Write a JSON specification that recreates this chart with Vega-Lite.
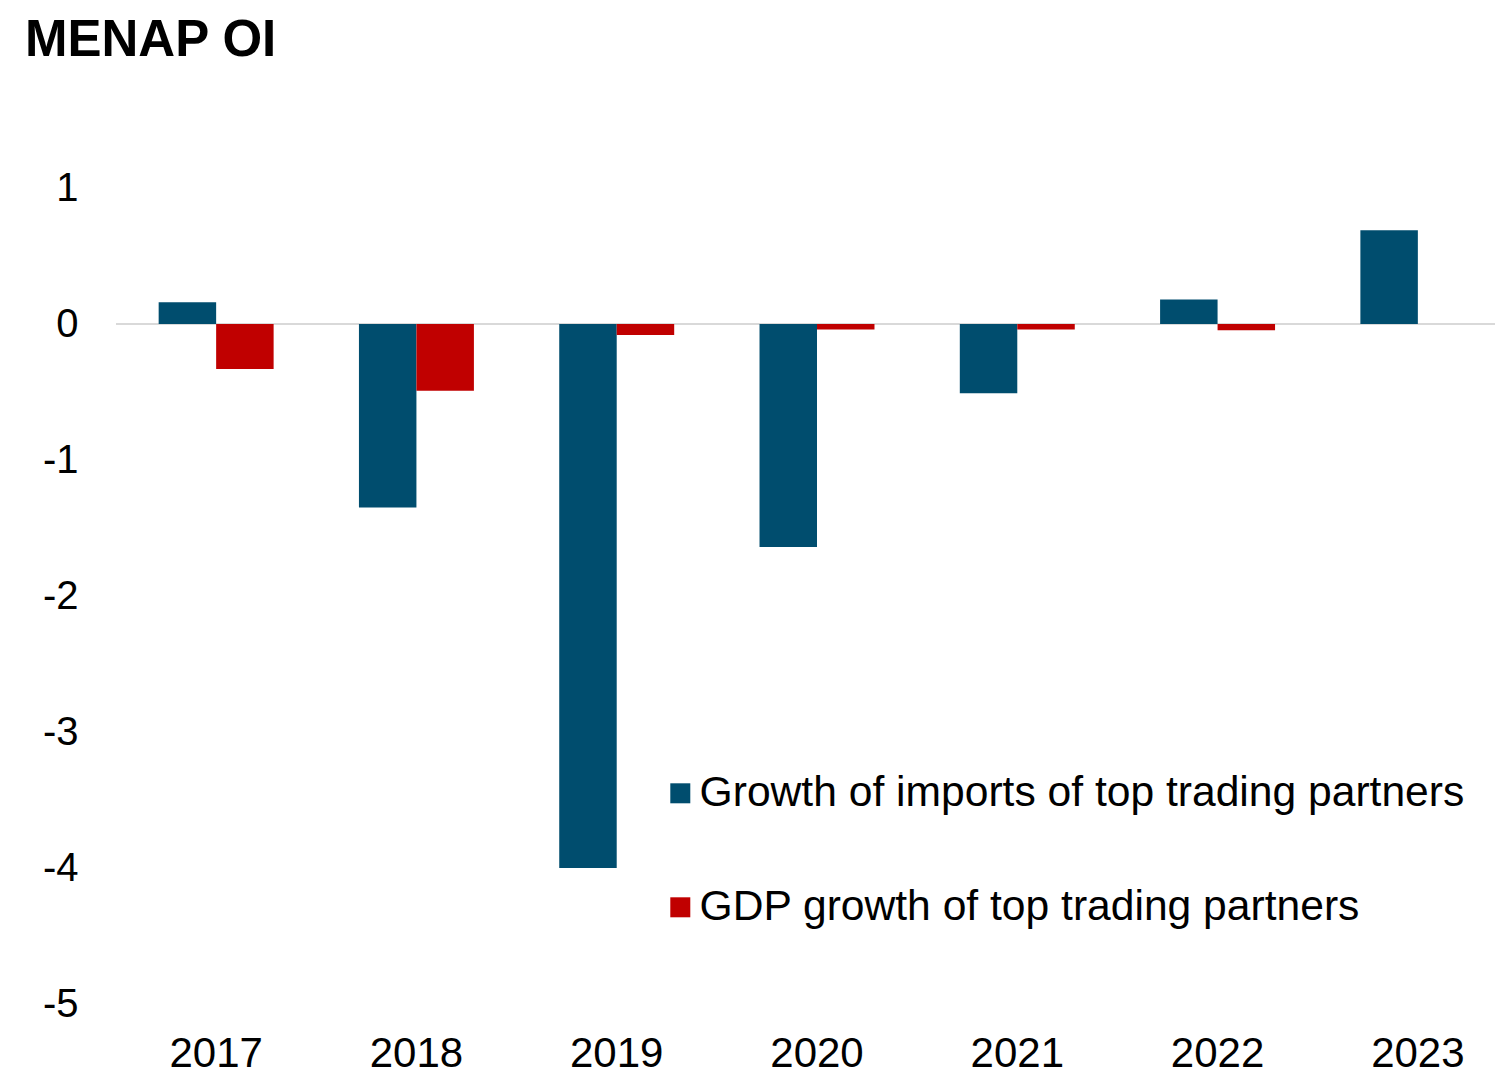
{
  "$schema": "https://vega.github.io/schema/vega-lite/v6.json",
  "autosize": "none",
  "padding": {"left": 116, "top": 188, "right": 0, "bottom": 72},
  "width": 1402,
  "height": 816,
  "background": "#ffffff",
  "title": {
    "text": "MENAP OI",
    "anchor": "start",
    "frame": "group",
    "font": "Liberation Sans",
    "fontSize": 51,
    "fontWeight": "bold",
    "color": "#000000",
    "dx": -91,
    "offset": 101
  },
  "data": {
    "values": [
      {"year": "2017", "series": "Growth of imports of top trading partners", "value": 0.16},
      {"year": "2017", "series": "GDP growth of top trading partners", "value": -0.33},
      {"year": "2018", "series": "Growth of imports of top trading partners", "value": -1.35},
      {"year": "2018", "series": "GDP growth of top trading partners", "value": -0.49},
      {"year": "2019", "series": "Growth of imports of top trading partners", "value": -4.0},
      {"year": "2019", "series": "GDP growth of top trading partners", "value": -0.08},
      {"year": "2020", "series": "Growth of imports of top trading partners", "value": -1.64},
      {"year": "2020", "series": "GDP growth of top trading partners", "value": -0.04},
      {"year": "2021", "series": "Growth of imports of top trading partners", "value": -0.51},
      {"year": "2021", "series": "GDP growth of top trading partners", "value": -0.04},
      {"year": "2022", "series": "Growth of imports of top trading partners", "value": 0.18},
      {"year": "2022", "series": "GDP growth of top trading partners", "value": -0.046},
      {"year": "2023", "series": "Growth of imports of top trading partners", "value": 0.69},
      {"year": "2023", "series": "GDP growth of top trading partners", "value": 0}
    ]
  },
  "config": {
    "view": {"stroke": null},
    "font": "Liberation Sans"
  },
  "layer": [
    {
      "mark": {"type": "rule", "color": "#d9d9d9", "strokeWidth": 2},
      "encoding": {"y": {"datum": 0, "type": "quantitative", "scale": {"domain": [-5, 1]}}}
    },
    {
      "mark": {"type": "bar"},
      "encoding": {
        "x": {
          "field": "year",
          "type": "nominal",
          "scale": {"paddingInner": 0.426, "paddingOuter": 0.213},
          "axis": {
            "title": null,
            "domain": false,
            "ticks": false,
            "labelAngle": 0,
            "labelFontSize": 42,
            "labelColor": "#000000",
            "labelPadding": 29
          }
        },
        "xOffset": {
          "field": "series",
          "type": "nominal",
          "sort": ["Growth of imports of top trading partners", "GDP growth of top trading partners"],
          "scale": {"paddingInner": 0, "paddingOuter": 0}
        },
        "y": {
          "field": "value",
          "type": "quantitative",
          "scale": {"domain": [-5, 1], "nice": false, "zero": false},
          "axis": {
            "title": null,
            "domain": false,
            "ticks": false,
            "grid": false,
            "values": [1, 0, -1, -2, -3, -4, -5],
            "labelExpr": "datum.value + ''",
            "labelFontSize": 40,
            "labelColor": "#000000",
            "labelPadding": 38
          }
        },
        "color": {
          "field": "series",
          "type": "nominal",
          "sort": ["Growth of imports of top trading partners", "GDP growth of top trading partners"],
          "scale": {
            "domain": ["Growth of imports of top trading partners", "GDP growth of top trading partners"],
            "range": ["#004D6E", "#C00000"]
          },
          "legend": {
            "title": null,
            "orient": "none",
            "legendX": 543,
            "legendY": 584,
            "symbolType": "square",
            "symbolSize": 400,
            "symbolStrokeWidth": 0,
            "symbolOpacity": 1,
            "labelFontSize": 42.6,
            "labelColor": "#000000",
            "labelOffset": -2,
            "labelLimit": 1000,
            "rowPadding": 71
          }
        }
      }
    }
  ]
}
